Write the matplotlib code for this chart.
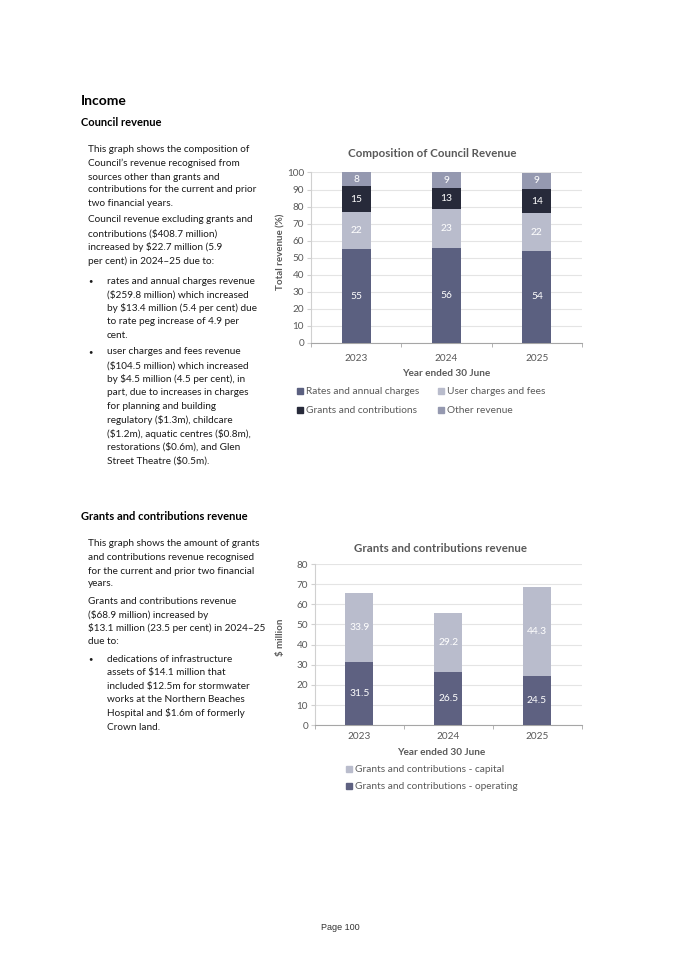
import matplotlib
matplotlib.use("Agg")
import matplotlib.pyplot as plt
from matplotlib.patches import Rectangle
import numpy as np

# ---------------- data ----------------
years = ["2023", "2024", "2025"]

rev_series = ["Rates and annual charges", "User charges and fees",
              "Grants and contributions", "Other revenue"]
rates = [55.1, 55.7, 54.2]
user_charges = [21.6, 22.6, 21.8]
grants_contrib = [15.3, 12.8, 14.4]
other_rev = [8.0, 8.9, 9.4]
rev_colors = ["#5b6080", "#b9bccc", "#272a3a", "#9599b0"]

gc_series = ["Grants and contributions - capital", "Grants and contributions - operating"]
gc_operating = [31.5, 26.5, 24.5]
gc_capital = [33.9, 29.2, 44.3]
gc_colors = ["#b9bccc", "#5e6181"]

# ---------------- figure ----------------
W, H = 675, 955
plt.rcParams['font.family'] = ['Lato', 'DejaVu Sans']
plt.rcParams['text.parse_math'] = False
fig = plt.figure(figsize=(W / 100, H / 100), dpi=100)
GRAY = "#595959"


def fx(x):
    return x / W


def fy(y):
    return 1 - y / H


def ftext(x, y, s, **kw):
    kw.setdefault('va', 'center')
    kw.setdefault('ha', 'left')
    fig.text(fx(x), fy(y), s, **kw)


# ---------------- page text ----------------
ftext(81, 101, "Income", fontsize=10, fontweight='bold', color='black')
ftext(81, 122, "Council revenue", fontsize=8, fontweight='bold', color='black')

body = dict(fontsize=7.2, color='#1a1a1a')
para_lines = [
    (149, "This graph shows the composition of"),
    (163, "Council\u2019s revenue recognised from"),
    (177, "sources other than grants and"),
    (190, "contributions for the current and prior"),
    (204, "two financial years."),
    (220, "Council revenue excluding grants and"),
    (234, "contributions ($408.7 million)"),
    (247, "increased by $22.7 million (5.9"),
    (261, "per cent) in 2024\u201325 due to:"),
]
for y, s in para_lines:
    ftext(88, y, s, **body)

bullet1 = ["rates and annual charges revenue",
           "($259.8 million) which increased",
           "by $13.4 million (5.4 per cent) due",
           "to rate peg increase of 4.9 per",
           "cent."]
bullet2 = ["user charges and fees revenue",
           "($104.5 million) which increased",
           "by $4.5 million (4.5 per cent), in",
           "part, due to increases in charges",
           "for planning and building",
           "regulatory ($1.3m), childcare",
           "($1.2m), aquatic centres ($0.8m),",
           "restorations ($0.6m), and Glen",
           "Street Theatre ($0.5m)."]


def bullet(y0, lines):
    ftext(88, y0, "\u2022", fontsize=5.5, color='#1a1a1a')
    for i, s in enumerate(lines):
        ftext(107, y0 + i * 13.6, s, **body)


bullet(281, bullet1)
bullet(352, bullet2)

ftext(81, 516, "Grants and contributions revenue", fontsize=8, fontweight='bold', color='black')
para2 = [
    (543, "This graph shows the amount of grants"),
    (557, "and contributions revenue recognised"),
    (571, "for the current and prior two financial"),
    (584, "years."),
    (601, "Grants and contributions revenue"),
    (615, "($68.9 million) increased by"),
    (628, "$13.1 million (23.5 per cent) in 2024\u201325"),
    (642, "due to:"),
]
for y, s in para2:
    ftext(88, y, s, **body)
bullet(659, ["dedications of infrastructure",
             "assets of $14.1 million that",
             "included $12.5m for stormwater",
             "works at the Northern Beaches",
             "Hospital and $1.6m of formerly",
             "Crown land."])

ftext(340, 927, "Page 100", fontsize=6.5, color='#333333', ha='center',
      family=['Liberation Sans', 'DejaVu Sans'])


# ---------------- chart helper ----------------
def style_axes(ax, ymax, ystep):
    ax.set_xlim(-0.5, 2.5)
    ax.set_ylim(0, ymax)
    ax.set_yticks(np.arange(0, ymax + 0.1, ystep))
    ax.yaxis.grid(True, color="#e4e4e4", linewidth=0.8)
    ax.set_axisbelow(True)
    for s in ("top", "right"):
        ax.spines[s].set_visible(False)
    ax.spines["left"].set_color("#d0d0d0")
    ax.spines["bottom"].set_color("#a6a6a6")
    ax.set_xticks(range(3))
    ax.set_xticklabels(years)
    ax.set_xticks([-0.5, 0.5, 1.5, 2.5], minor=True)
    ax.tick_params(axis='x', which='major', length=0, pad=8, labelsize=7.2, labelcolor=GRAY)
    ax.tick_params(axis='x', which='minor', length=3, color="#a6a6a6")
    ax.tick_params(axis='y', length=3, color="#d0d0d0", pad=2, labelsize=7.2, labelcolor=GRAY)


# ---------------- chart 1 ----------------
ax1 = fig.add_axes([fx(311), fy(343), (582 - 311) / W, (343 - 172.5) / H])
style_axes(ax1, 100, 10)
x = np.arange(len(years))
bottom = np.zeros(3)
for vals, name, col in zip([rates, user_charges, grants_contrib, other_rev], rev_series, rev_colors):
    bars = ax1.bar(x, vals, 0.32, bottom=bottom, color=col, label=name, zorder=3)
    ax1.bar_label(bars, labels=[f"{v:.0f}" for v in vals], label_type='center',
                  color='white', fontsize=7.4)
    bottom += np.array(vals)

ftext(432, 153, "Composition of Council Revenue", fontsize=8.3, fontweight='bold',
      color=GRAY, ha='center')
ftext(281, 252, "Total revenue (%)", fontsize=7, fontweight='bold', color=GRAY,
      ha='center', rotation=90)
ftext(446, 373, "Year ended 30 June", fontsize=7.2, fontweight='bold', color=GRAY, ha='center')

leg1 = [(297, 391, 0), (438, 391, 1), (297, 410, 2), (438, 410, 3)]
for lx, ly, i in leg1:
    fig.add_artist(Rectangle((fx(lx), fy(ly + 3)), 6 / W, 6 / H, color=rev_colors[i],
                             transform=fig.transFigure))
    ftext(lx + 9, ly, rev_series[i], fontsize=7.3, color=GRAY)

# ---------------- chart 2 ----------------
ax2 = fig.add_axes([fx(315), fy(725.3), (581.5 - 315) / W, (725.3 - 564) / H])
style_axes(ax2, 80, 10)
b_op = ax2.bar(x, gc_operating, 0.315, color=gc_colors[1], label=gc_series[1], zorder=3)
b_cap = ax2.bar(x, gc_capital, 0.315, bottom=gc_operating, color=gc_colors[0],
                label=gc_series[0], zorder=3)
ax2.bar_label(b_op, labels=[f"{v:.1f}" for v in gc_operating], label_type='center',
              color='white', fontsize=7.4)
ax2.bar_label(b_cap, labels=[f"{v:.1f}" for v in gc_capital], label_type='center',
              color='white', fontsize=7.4)
ax2.tick_params(axis='x', which='major', pad=5)

ftext(441, 548, "Grants and contributions revenue", fontsize=8.3, fontweight='bold',
      color=GRAY, ha='center')
ftext(281, 637, "$ million", fontsize=7, fontweight='bold', color=GRAY,
      ha='center', rotation=90)
ftext(441, 752, "Year ended 30 June", fontsize=7.2, fontweight='bold', color=GRAY, ha='center')

for ly, i in [(769, 0), (786, 1)]:
    fig.add_artist(Rectangle((fx(346), fy(ly + 3)), 6 / W, 6 / H, color=gc_colors[i],
                             transform=fig.transFigure))
    ftext(355, ly, gc_series[i], fontsize=7.3, color=GRAY)

fig.savefig("out.png", dpi=100, facecolor='white')
